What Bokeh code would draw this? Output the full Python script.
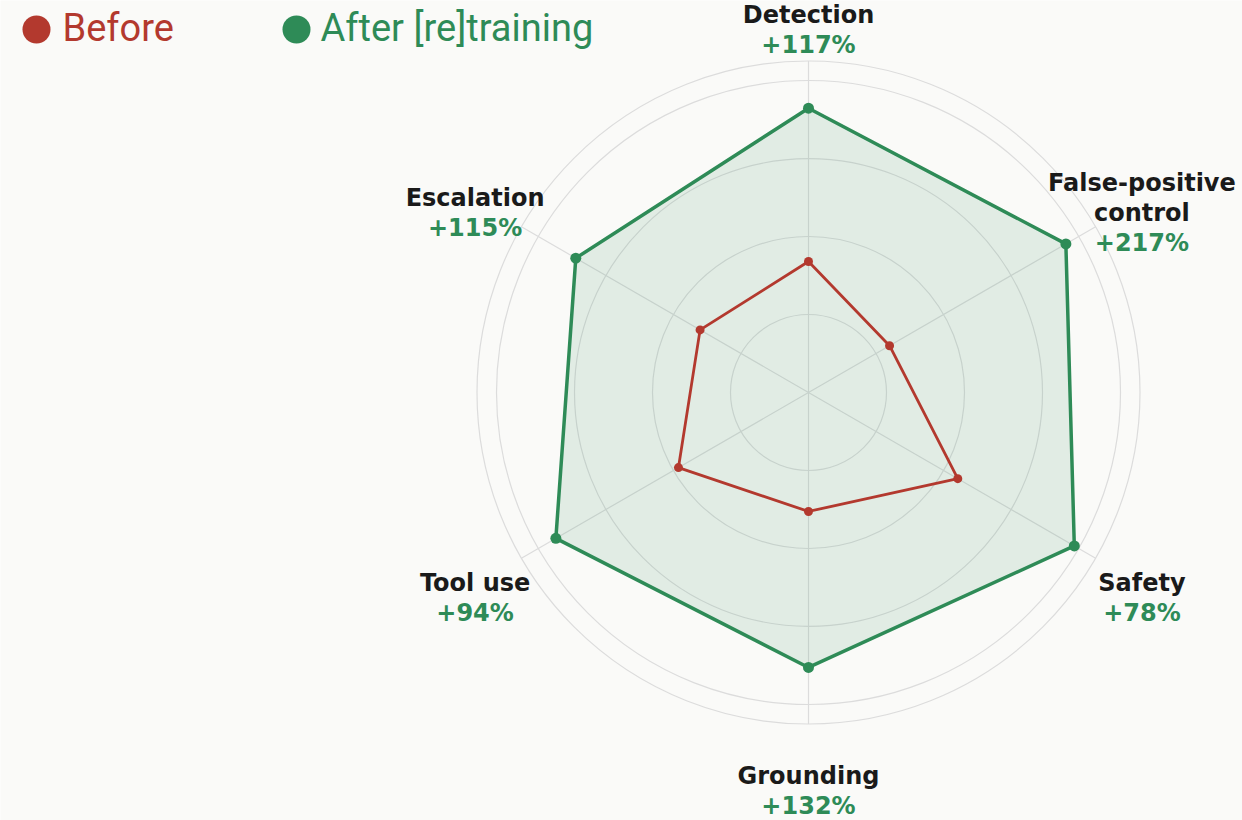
import numpy as np
from bokeh.plotting import figure
from bokeh.models import Range1d, ColumnDataSource
from bokeh.core.properties import value
from bokeh.embed import file_html
from bokeh.resources import INLINE

# ---------------- data ----------------
categories = ["Detection", "False-positive\ncontrol", "Safety", "Grounding", "Tool use", "Escalation"]
before = [0.336, 0.240, 0.442, 0.305, 0.385, 0.321]
after = [0.729, 0.762, 0.787, 0.705, 0.748, 0.689]
gains = ["+117%", "+217%", "+78%", "+132%", "+94%", "+115%"]
rings = [0.2, 0.4, 0.6, 0.8]
r_max = 0.85
series_names = ["Before", "After [re]training"]

# ---------------- style ----------------
BG = "#fafaf8"
RED = "#b3392e"
GREEN = "#2e8b57"
GRID = "#dcdcdc"
INK = "#1a1a1a"

W, H = 1242, 820
S = 390.0                 # pixels per data unit
CX, CY = 808, 392         # radar centre in figure pixels


def to_data(px, py):
    return ((px - CX) / S, (CY - py) / S)


p = figure(width=W, height=H, output_backend="svg", toolbar_location=None,
           x_range=Range1d(-CX / S, (W - CX) / S),
           y_range=Range1d(-(H - CY) / S, CY / S),
           x_axis_location=None, y_axis_location=None,
           min_border=0, outline_line_color=None,
           background_fill_color=BG, border_fill_color=BG)
p.grid.visible = False

n = len(categories)
theta = np.pi / 2 - np.arange(n) * 2 * np.pi / n
cos_t, sin_t = np.cos(theta), np.sin(theta)

# grid rings + outer circle
all_r = rings + [r_max]
p.circle(x=[0] * len(all_r), y=[0] * len(all_r), radius=all_r,
         fill_color=None, line_color=GRID, line_width=1.2)
# spokes
p.segment(x0=[0] * n, y0=[0] * n, x1=list(r_max * cos_t), y1=list(r_max * sin_t),
          line_color=GRID, line_width=1.2)

# after series
ax = list(np.array(after) * cos_t)
ay = list(np.array(after) * sin_t)
p.patch(ax, ay, fill_color=GREEN, fill_alpha=0.12, line_color=None)
p.line(ax + ax[:1], ay + ay[:1], line_color=GREEN, line_width=3.5, line_join="round")
p.scatter(ax, ay, size=11, fill_color=GREEN, line_color=None)

# before series
bx = list(np.array(before) * cos_t)
by = list(np.array(before) * sin_t)
p.line(bx + bx[:1], by + by[:1], line_color=RED, line_width=2.8, line_join="round")
p.scatter(bx, by, size=9, fill_color=RED, line_color=None)

# axis labels
R_LAB = 385 / S
LINE_H = 30
lx, ly, lt, lo, lc = [], [], [], [], []
for i in range(n):
    lines = categories[i].split("\n") + [gains[i]]
    m = len(lines)
    offs = [13 + (j - (m - 1) / 2) * LINE_H for j in range(m)]
    # keep the block inside the canvas (top edge)
    top_px = CY - R_LAB * S * sin_t[i] + offs[0] - 12
    shift = max(0.0, 2 - top_px)
    for j, t in enumerate(lines):
        lx.append(R_LAB * cos_t[i])
        ly.append(R_LAB * sin_t[i])
        lt.append(t)
        lo.append(offs[j] + shift)
        lc.append(GREEN if j == m - 1 else INK)
p.text(x="x", y="y", text="t", y_offset="o", text_color="c",
       source=ColumnDataSource(dict(x=lx, y=ly, t=lt, o=lo, c=lc)),
       text_font=value("DejaVu Sans"), text_font_style="bold",
       text_font_size="24px", text_align="center", text_baseline="middle")

# legend
leg_colors = [RED, GREEN]
dot_px = [(36, 29), (296, 29)]
txt_px = [(62, 27), (320, 27)]
for k in range(2):
    dx, dy = to_data(*dot_px[k])
    p.scatter([dx], [dy], size=28, fill_color=leg_colors[k], line_color=None)
    tx, ty = to_data(*txt_px[k])
    p.text([tx], [ty], text=[series_names[k]], text_color=leg_colors[k],
           text_font=value("Roboto"), text_font_size="38px",
           text_align="left", text_baseline="middle")

open("out.html", "w").write(file_html(p, INLINE))
